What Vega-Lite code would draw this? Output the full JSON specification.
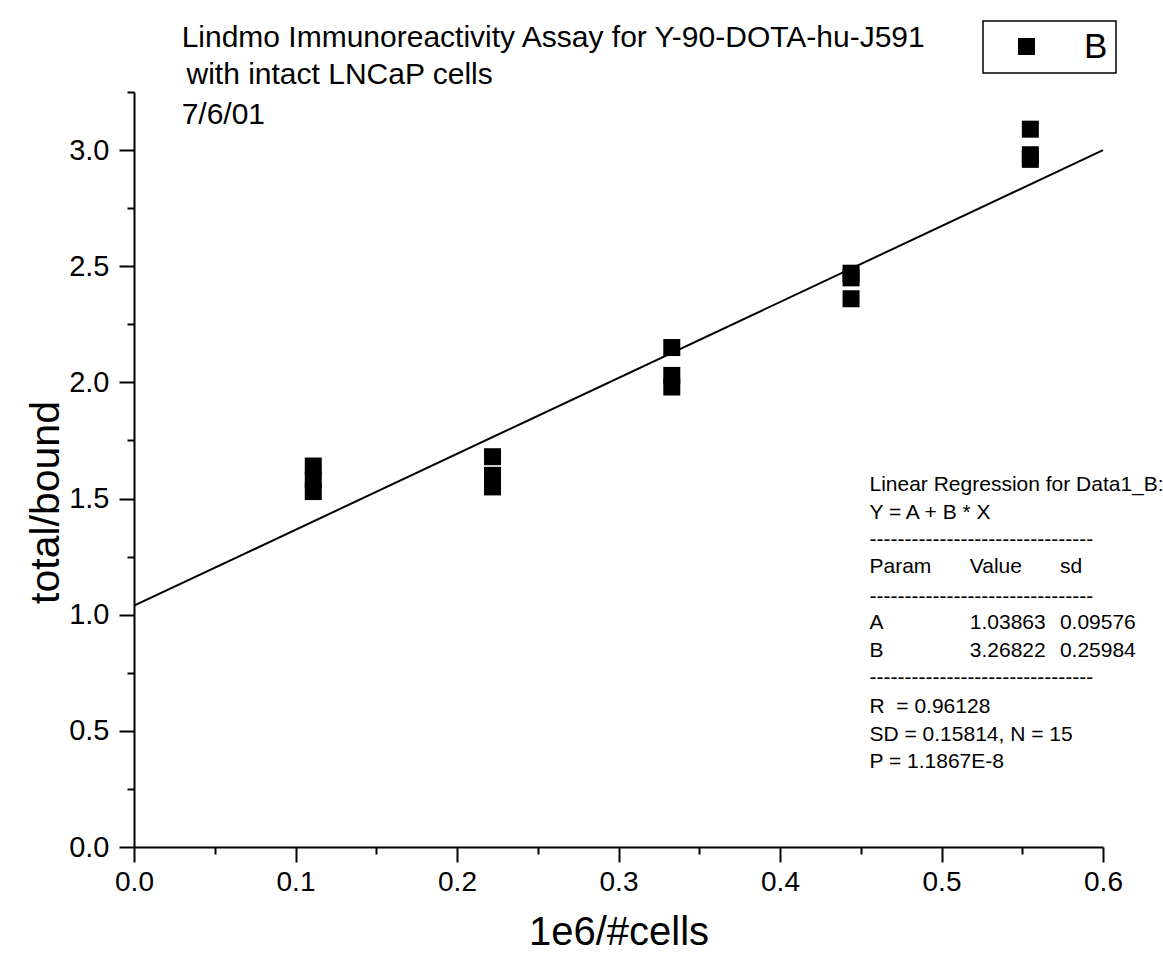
{
  "$schema": "https://vega.github.io/schema/vega-lite/v6.json",
  "width": 969,
  "height": 755,
  "autosize": "none",
  "padding": {"left": 134, "top": 92, "right": 60, "bottom": 108},
  "background": "white",
  "config": {
    "view": {"stroke": null},
    "font": "Liberation Sans",
    "axis": {"grid": false, "domainColor": "black", "tickColor": "black", "labelColor": "black", "titleColor": "black", "domainWidth": 2, "tickWidth": 2, "labelFont": "Liberation Sans", "titleFont": "Liberation Sans", "titleFontWeight": "normal", "labelOverlap": false, "labelFlush": false},
    "legend": {"orient": "none", "legendX": 849, "legendY": -71, "strokeColor": "black", "strokeWidth": 1.5, "padding": 8, "labelFontSize": 35, "labelFont": "Liberation Sans", "labelColor": "black", "symbolSize": 289, "symbolOffset": 18, "labelOffset": 40, "symbolStrokeWidth": 0}
  },
  "datasets": {
    "pts": [
      {"x": 0.111, "y": 1.64, "series": "B"},
      {"x": 0.111, "y": 1.58, "series": "B"},
      {"x": 0.111, "y": 1.53, "series": "B"},
      {"x": 0.222, "y": 1.68, "series": "B"},
      {"x": 0.222, "y": 1.60, "series": "B"},
      {"x": 0.222, "y": 1.55, "series": "B"},
      {"x": 0.333, "y": 2.15, "series": "B"},
      {"x": 0.333, "y": 2.03, "series": "B"},
      {"x": 0.333, "y": 1.98, "series": "B"},
      {"x": 0.444, "y": 2.47, "series": "B"},
      {"x": 0.444, "y": 2.45, "series": "B"},
      {"x": 0.444, "y": 2.36, "series": "B"},
      {"x": 0.555, "y": 3.09, "series": "B"},
      {"x": 0.555, "y": 2.98, "series": "B"},
      {"x": 0.555, "y": 2.96, "series": "B"}
    ],
    "fit": [
      {"x": 0.0, "y": 1.03863},
      {"x": 0.6, "y": 2.99956}
    ],
    "titles": [
      {"x": 0.0295, "y": 3.445, "t": "Lindmo Immunoreactivity Assay for Y-90-DOTA-hu-J591"},
      {"x": 0.0325, "y": 3.285, "t": "with intact LNCaP cells"},
      {"x": 0.0295, "y": 3.112, "t": "7/6/01"}
    ],
    "notes": [
      {"x": 0.4554, "y": 1.5585, "t": "Linear Regression for Data1_B:"},
      {"x": 0.4554, "y": 1.4396, "t": "Y = A + B * X"},
      {"x": 0.4554, "y": 1.3224, "t": "--------------------------------"},
      {"x": 0.4554, "y": 1.2034, "t": "Param"},
      {"x": 0.5175, "y": 1.2034, "t": "Value"},
      {"x": 0.5733, "y": 1.2034, "t": "sd"},
      {"x": 0.4554, "y": 1.0776, "t": "--------------------------------"},
      {"x": 0.4554, "y": 0.963, "t": "A"},
      {"x": 0.5175, "y": 0.963, "t": "1.03863"},
      {"x": 0.5733, "y": 0.963, "t": "0.09576"},
      {"x": 0.4554, "y": 0.8458, "t": "B"},
      {"x": 0.5175, "y": 0.8458, "t": "3.26822"},
      {"x": 0.5733, "y": 0.8458, "t": "0.25984"},
      {"x": 0.4554, "y": 0.7256, "t": "--------------------------------"},
      {"x": 0.4554, "y": 0.6024, "t": "R \u00a0= 0.96128"},
      {"x": 0.4554, "y": 0.4809, "t": "SD = 0.15814, N = 15"},
      {"x": 0.4554, "y": 0.3662, "t": "P = 1.1867E-8"}
    ]
  },
  "encoding": {
    "x": {
      "field": "x", "type": "quantitative",
      "scale": {"domain": [0, 0.6], "nice": false, "zero": false},
      "axis": {
        "title": "1e6/#cells", "titleFontSize": 40, "titlePadding": 16,
        "values": [0, 0.05, 0.1, 0.15, 0.2, 0.25, 0.3, 0.35, 0.4, 0.45, 0.5, 0.55, 0.6],
        "labelExpr": "abs(datum.value*10 - round(datum.value*10)) < 1e-6 ? format(datum.value, '.1f') : ''",
        "tickSize": {"condition": {"test": "abs(datum.value*10 - round(datum.value*10)) < 1e-6", "value": 15}, "value": 7},
        "labelFontSize": 28, "labelPadding": 6
      }
    },
    "y": {
      "field": "y", "type": "quantitative",
      "scale": {"domain": [0, 3.25], "nice": false, "zero": false},
      "axis": {
        "title": "total/bound", "titleFontSize": 41, "titleX": -88, "titleY": 410, "titleAlign": "center", "titleBaseline": "middle", "titleAngle": -90,
        "values": [0, 0.25, 0.5, 0.75, 1, 1.25, 1.5, 1.75, 2, 2.25, 2.5, 2.75, 3, 3.25],
        "labelExpr": "abs(datum.value*2 - round(datum.value*2)) < 1e-6 ? format(datum.value, '.1f') : ''",
        "tickSize": {"condition": {"test": "abs(datum.value*2 - round(datum.value*2)) < 1e-6", "value": 15}, "value": 7},
        "labelFontSize": 29, "labelPadding": 10
      }
    }
  },
  "layer": [
    {
      "data": {"name": "fit"},
      "mark": {"type": "line", "color": "black", "strokeWidth": 2},
      "encoding": {}
    },
    {
      "data": {"name": "pts"},
      "mark": {"type": "point", "filled": true, "size": 289, "opacity": 1, "strokeWidth": 0},
      "encoding": {
        "shape": {"field": "series", "type": "nominal", "scale": {"range": ["square"]}, "legend": {"title": null}},
        "color": {"field": "series", "type": "nominal", "scale": {"range": ["black"]}, "legend": {"title": null}}
      }
    },
    {
      "data": {"name": "titles"},
      "mark": {"type": "text", "align": "left", "baseline": "alphabetic", "fontSize": 30, "color": "black"},
      "encoding": {"text": {"field": "t"}}
    },
    {
      "data": {"name": "notes"},
      "mark": {"type": "text", "align": "left", "baseline": "middle", "fontSize": 21, "color": "black"},
      "encoding": {"text": {"field": "t"}}
    }
  ]
}
